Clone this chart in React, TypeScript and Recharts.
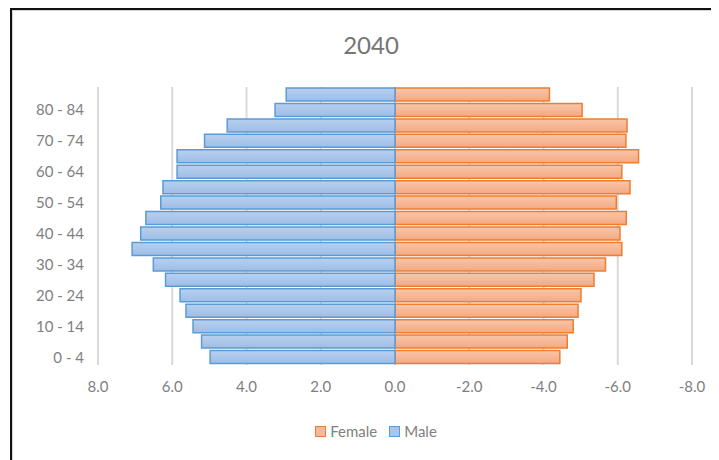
import React from 'react';
import { BarChart, Bar, XAxis, YAxis, CartesianGrid, Legend } from 'recharts';

const ageGroups = ['0 - 4', '5 - 9', '10 - 14', '15 - 19', '20 - 24', '25 - 29', '30 - 34', '35 - 39', '40 - 44', '45 - 49', '50 - 54', '55 - 59', '60 - 64', '65 - 69', '70 - 74', '75 - 79', '80 - 84', '85+'];
const maleValues = [4.98, 5.21, 5.44, 5.63, 5.79, 6.18, 6.51, 7.08, 6.85, 6.71, 6.31, 6.25, 5.87, 5.87, 5.13, 4.52, 3.23, 2.93];
const femaleValues = [-4.44, -4.64, -4.8, -4.93, -5.01, -5.36, -5.67, -6.11, -6.06, -6.23, -5.96, -6.33, -6.11, -6.56, -6.22, -6.25, -5.04, -4.16];
const xTicks = [-8, -6, -4, -2, 0, 2, 4, 6, 8];
const chartTitle = '2040';

const data = ageGroups.map((age, i) => ({ age, Female: femaleValues[i], Male: maleValues[i] }));

const FONT = 'Lato, "Open Sans", sans-serif';

const LegendContent = () => (
  <div style={{ display: 'flex', justifyContent: 'center', alignItems: 'center', fontFamily: FONT, fontSize: 15, color: '#7f7f7f', height: 24 }}>
    <span style={{ display: 'inline-block', width: 9, height: 9, background: '#f6b896', border: '1.5px solid #ed7d31', marginRight: 4 }} />
    <span style={{ marginRight: 12 }}>Female</span>
    <span style={{ display: 'inline-block', width: 9, height: 9, background: '#a9c5eb', border: '1.5px solid #5b9bd5', marginRight: 4 }} />
    <span>Male</span>
  </div>
);

export default function App() {
  return (
    <div style={{ position: 'relative', width: 711, height: 452, overflow: 'hidden', background: '#fff' }}>
      <div style={{ position: 'absolute', left: 2, top: 0, width: 1000, height: 1000, borderTop: '2px solid #111', borderLeft: '2px solid #111' }} />
      <div style={{ position: 'absolute', left: 4, top: 2, width: 1000, height: 1000, borderTop: '1px solid #d4d4d4', borderLeft: '1px solid #d4d4d4' }} />
      <div style={{ position: 'absolute', left: 0, top: 22, width: 726, textAlign: 'center', fontFamily: FONT, fontSize: 24, color: '#757575' }}>{chartTitle}</div>
      <div style={{ position: 'absolute', left: 0, top: 0 }}>
        <BarChart
          width={711}
          height={452}
          data={data}
          layout="vertical"
          stackOffset="sign"
          barCategoryGap={1}
          margin={{ top: 79, right: 27, left: 0, bottom: 41 }}
        >
          <defs>
            <linearGradient id="maleGrad" x1="0" y1="0" x2="0" y2="1">
              <stop offset="0%" stopColor="#b7d0f0" />
              <stop offset="100%" stopColor="#9ebde6" />
            </linearGradient>
            <linearGradient id="femaleGrad" x1="0" y1="0" x2="0" y2="1">
              <stop offset="0%" stopColor="#f8c6a9" />
              <stop offset="100%" stopColor="#f4a982" />
            </linearGradient>
          </defs>
          <CartesianGrid horizontal={false} stroke="#d9d9d9" strokeWidth={2} />
          <XAxis
            type="number"
            domain={[-8, 8]}
            ticks={xTicks}
            reversed
            axisLine={false}
            tickLine={false}
            tickSize={0}
            tickMargin={16}
            height={30}
            tickFormatter={(v: number) => v.toFixed(1)}
            tick={{ fill: '#7f7f7f', fontSize: 15, fontFamily: FONT }}
          />
          <YAxis
            type="category"
            dataKey="age"
            reversed
            interval={1}
            width={90}
            axisLine={false}
            tickLine={false}
            tickSize={0}
            tickMargin={14}
            tick={{ fill: '#7f7f7f', fontSize: 15, fontFamily: FONT }}
          />
          <Legend
            verticalAlign="bottom"
            content={<LegendContent />}
            wrapperStyle={{ top: 411, left: 0, width: 736, height: 24, bottom: 'auto' }}
          />
          <Bar dataKey="Female" stackId="p" fill="url(#femaleGrad)" stroke="#ed7d31" strokeWidth={1.5} isAnimationActive={false} />
          <Bar dataKey="Male" stackId="p" fill="url(#maleGrad)" stroke="#5b9bd5" strokeWidth={1.5} isAnimationActive={false} />
        </BarChart>
      </div>
    </div>
  );
}
